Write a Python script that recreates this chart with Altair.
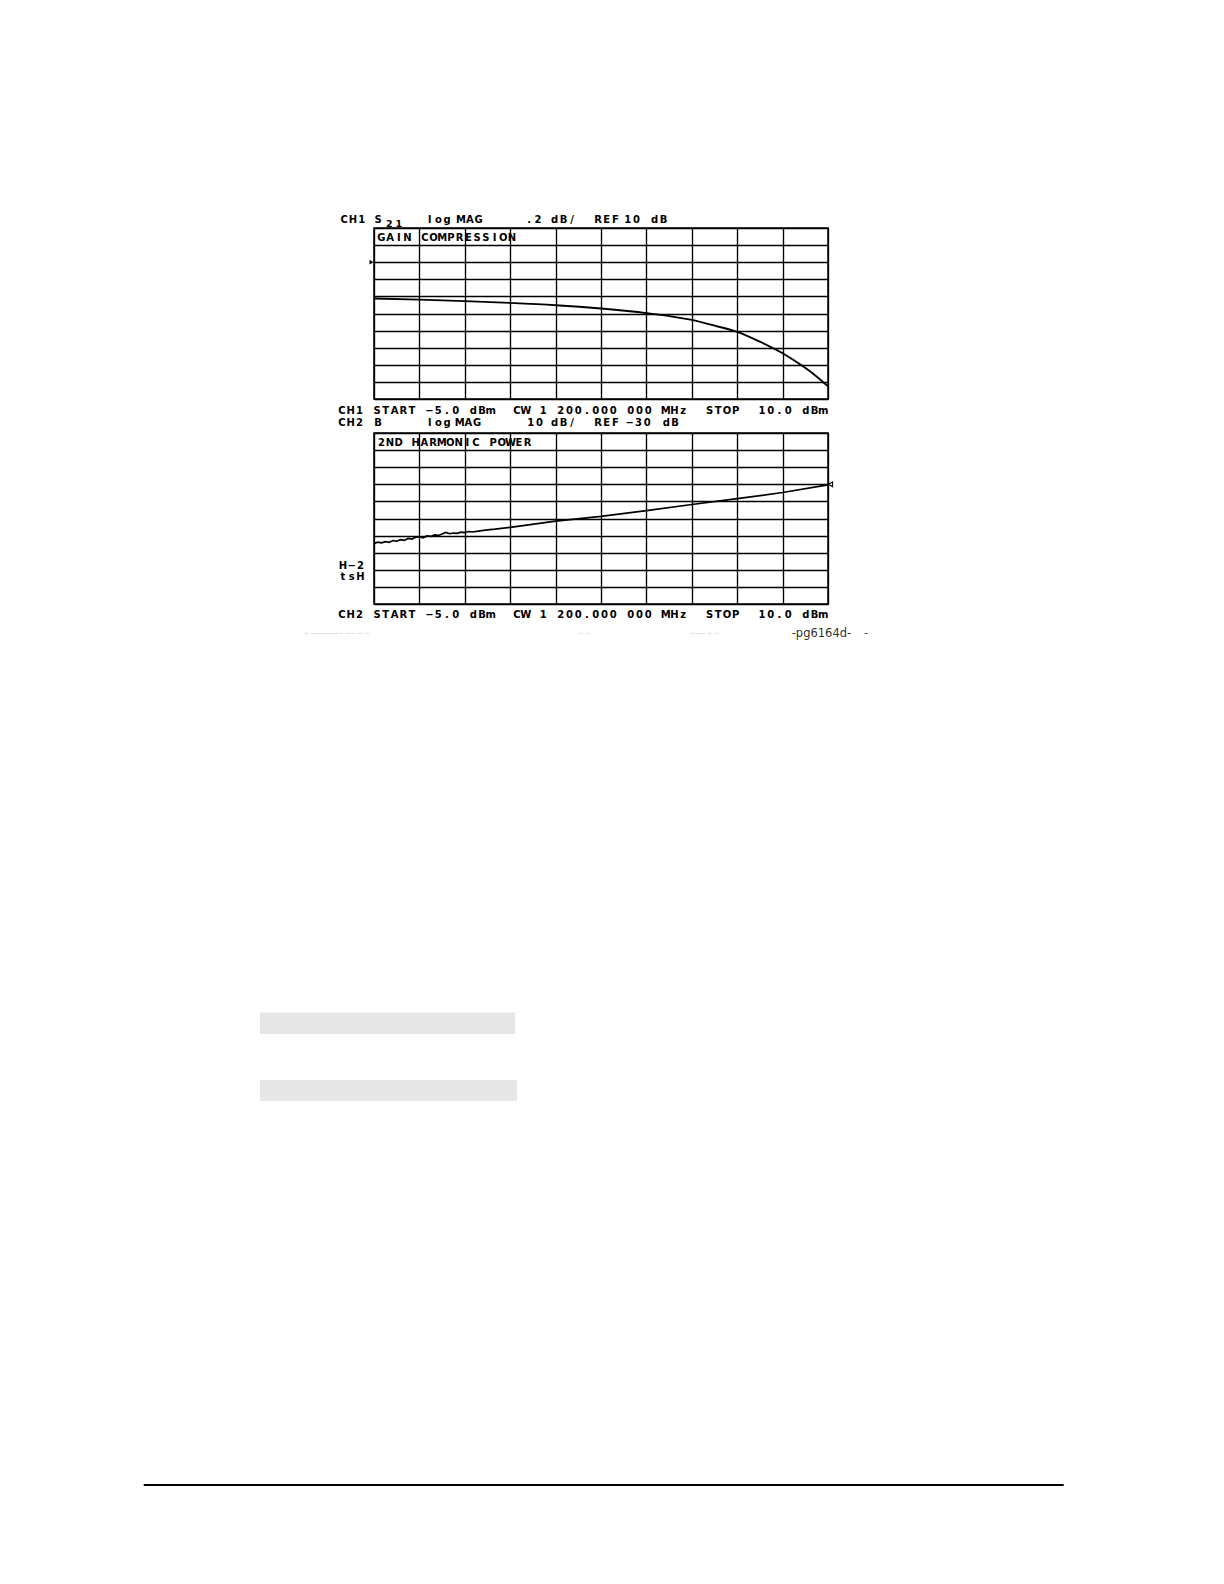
import altair as alt
import pandas as pd

# ---------------- data ----------------
# CH1: S21 gain vs input power (gain compression)
gain_input_dbm = [-5.0, -3.5, -2.0, -0.5, 1.0, 2.5, 4.0, 5.5, 6.25, 7.0, 7.75, 8.5, 9.1, 9.55, 10.0]
gain_db = [9.576, 9.562, 9.545, 9.524, 9.497, 9.458, 9.405, 9.325, 9.258, 9.185, 9.070, 8.935, 8.800, 8.685, 8.548]

# CH2: 2nd harmonic power vs input power (noisy at low drive)
harm_input_dbm = [-5.0, -4.875, -4.75, -4.625, -4.5, -4.375, -4.25, -4.125, -4.0, -3.875,
                  -3.75, -3.625, -3.5, -3.375, -3.25, -3.125, -3.0, -2.875, -2.75, -2.625,
                  -2.5, -2.375, -2.25, -2.125, -2.0, -1.875, -1.75, -1.5, -1.25, -1.0,
                  -0.5, 1.0, 2.5, 4.0, 5.5, 7.0, 8.5, 10.0]
harm_db = [-64.6, -63.8, -64.2, -63.5, -63.9, -62.9, -63.3, -62.4, -62.8, -61.7,
           -62.1, -60.9, -60.6, -61.3, -60.2, -60.5, -59.6, -59.9, -59.1, -58.2,
           -58.9, -58.5, -58.7, -58.0, -58.3, -57.6, -57.9, -57.2, -56.6, -56.2,
           -55.2, -51.5, -48.8, -45.4, -41.8, -38.4, -34.8, -30.3]

x_domain = [-5.0, 10.0]          # START / STOP
ch1_domain = [8.4, 10.4]         # .2 dB/div, REF 10 dB
ch2_domain = [-100.0, 0.0]       # 10 dB/div, REF -30 dB
ch1_ref = 10.0
ch2_ref = -30.0

# ---------------- layout ----------------
W, H = 454, 171
OX, OY1, OY2 = 373, 227, 432      # page position of plot origins
FONT = "DejaVu Sans"
ONE = pd.DataFrame({"k": [0]})


def chars(word, x_left, base, pitch=8.75, size=10, color="#000", font=FONT, weight="bold"):
    """one text layer per glyph, placed on a fixed pitch like the plotter font"""
    out = []
    for i, ch in enumerate(word):
        if ch == " ":
            continue
        out.append(
            alt.Chart(ONE).mark_text(text=ch, align="center", baseline="alphabetic",
                                     font=font, fontSize=size, color=color, fontWeight=weight)
            .encode(x=alt.value(x_left + 3.7 + i * pitch), y=alt.value(base))
        )
    return out


def words(items, base, oy, pitch=8.75, size=10):
    out = []
    for w, xp in items:
        out += chars(w, xp - OX, base - oy, pitch=pitch, size=size)
    return out


def faint(text, xp, yp, oy, color="#cfcfcf"):
    return alt.Chart(ONE).mark_text(text=text, align="left", baseline="alphabetic",
                                    font=FONT, fontSize=9, color=color).encode(
        x=alt.value(xp - OX), y=alt.value(yp - oy))


grid_x = [x_domain[0] + 1.5 * i for i in range(11)]
grid_y1 = [round(ch1_domain[0] + 0.2 * i, 2) for i in range(11)]
grid_y2 = [ch2_domain[0] + 10 * i for i in range(11)]


def gaxis(vals):
    return alt.Axis(values=vals, tickCount=len(vals), grid=True, gridColor="#000", gridWidth=1.35,
                    gridOpacity=1, labels=False, ticks=False, domain=False, title=None,
                    minExtent=0, maxExtent=0)


xs = alt.Scale(domain=x_domain, nice=False, zero=False)

# ---------------- top panel ----------------
top_df = pd.DataFrame({"dbm": gain_input_dbm, "gain": gain_db})
top_line = alt.Chart(top_df).mark_line(color="#000", strokeWidth=1.9, interpolate="monotone", clip=True).encode(
    x=alt.X("dbm:Q", scale=xs, axis=gaxis(grid_x)),
    y=alt.Y("gain:Q", scale=alt.Scale(domain=ch1_domain, nice=False, zero=False), axis=gaxis(grid_y1)),
)
top_ref = alt.Chart(ONE).mark_point(shape="triangle-right", filled=True, size=22, color="#000", opacity=1).encode(
    x=alt.value(-2.5), y=alt.datum(ch1_ref)
)
anchor = alt.Chart(ONE).mark_rule(color="white", strokeWidth=1).encode(
    x=alt.value(8 - OX + 0.5), x2=alt.value(8 - OX + 1.5), y=alt.value(8 - OY1 + 0.5)
)

row_a = [("CH1", 339.5), ("S", 373.3), ("log", 425), ("MAG", 456.3), (".2", 524.5),
         ("dB/", 550), ("REF", 593.3), ("10", 623), ("dB", 650)]
row_b = "CH1 START \u22125.0 dBm  CW 1 200.000 000 MHz  STOP  10.0 dBm"
row_d = "CH2 START \u22125.0 dBm  CW 1 200.000 000 MHz  STOP  10.0 dBm"

top_texts = []
top_texts += words(row_a, 221.7, OY1)
top_texts += chars("21", 384.5 - OX, 226.0 - OY1, pitch=9.5, size=9.5)
top_texts += chars(row_b, 337.3 - OX, 412.7 - OY1)
top_texts += chars("GAIN COMPRESSION", 376.7 - OX, 240 - OY1, pitch=8.7)

top = alt.layer(top_line, top_ref, anchor, *top_texts).properties(width=W, height=H)

# ---------------- bottom panel ----------------
bot_df = pd.DataFrame({"dbm": harm_input_dbm, "harm": harm_db})
bot_line = alt.Chart(bot_df).mark_line(color="#000", strokeWidth=1.7, clip=True).encode(
    x=alt.X("dbm:Q", scale=xs, axis=gaxis(grid_x)),
    y=alt.Y("harm:Q", scale=alt.Scale(domain=ch2_domain, nice=False, zero=False), axis=gaxis(grid_y2)),
)
bot_ref = alt.Chart(ONE).mark_point(shape="triangle-left", filled=False, size=22, color="#000",
                                    strokeWidth=1.2, opacity=1).encode(
    x=alt.value(W + 2.5), y=alt.datum(ch2_ref)
)

row_c = [("CH2", 337.3), ("B", 373.3), ("log", 425), ("MAG", 455), ("10", 526),
         ("dB/", 550), ("REF", 593.3), ("\u221230", 625), ("dB", 661.7)]

bot_texts = []
bot_texts += words(row_c, 425.3, OY2)
bot_texts += chars("2ND HARMONIC POWER", 376.7 - OX, 444.5 - OY2, pitch=8.6)
bot_texts += chars(row_d, 337.3 - OX, 617 - OY2)
bot_texts += chars("H\u22122", 338.3 - OX, 567.7 - OY2)
bot_texts += chars("tsH", 338.3 - OX, 579.3 - OY2)

pg = alt.Chart(ONE).mark_text(text="-pg6164d-", align="left", baseline="alphabetic",
                              font=FONT, fontSize=11.5, color="#333").encode(
    x=alt.value(790.7 - OX), y=alt.value(636 - OY2)
)
pg_tail = alt.Chart(ONE).mark_text(text="-", align="left", baseline="alphabetic",
                                   font=FONT, fontSize=11.5, color="#555").encode(
    x=alt.value(863 - OX), y=alt.value(636 - OY2)
)
scan_marks = [
    faint("\u2013   \u2013\u2013\u2013\u2013\u2013\u2013\u2013  \u2013\u2013  \u2013 \u2013", 303, 635, OY2),
    faint("\u2013    \u2013", 578, 635, OY2),
    faint("\u2013\u2013\u2013   \u2013   \u2013", 690, 635, OY2),
]

box1 = alt.Chart(ONE).mark_rect(color="#e6e6e6").encode(
    x=alt.value(259 - OX), x2=alt.value(514 - OX), y=alt.value(1011.5 - OY2), y2=alt.value(1033 - OY2)
)
box2 = alt.Chart(ONE).mark_rect(color="#e6e6e6").encode(
    x=alt.value(259 - OX), x2=alt.value(516 - OX), y=alt.value(1079 - OY2), y2=alt.value(1100 - OY2)
)
footer_rule = alt.Chart(ONE).mark_rule(color="#000", strokeWidth=2.2).encode(
    x=alt.value(142.7 - OX), x2=alt.value(1062.7 - OX), y=alt.value(1484 - OY2)
)

bottom = alt.layer(bot_line, bot_ref, pg, pg_tail, *scan_marks, box1, box2, footer_rule,
                   *bot_texts).properties(width=W, height=H)

chart = (
    alt.vconcat(top, bottom, spacing=OY2 - OY1 - H, bounds="flush")
    .properties(padding=0, background="white")
    .configure_view(stroke="#000", strokeWidth=1.5)
)

chart.save("out.html", embed_options={"renderer": "svg", "actions": False})
